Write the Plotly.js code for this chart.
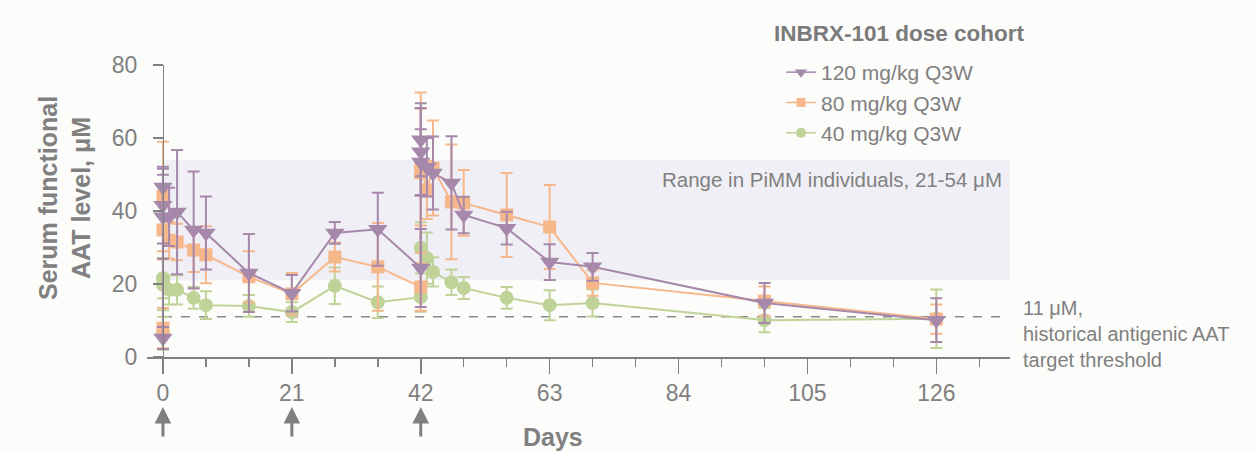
<!DOCTYPE html>
<html>
<head>
<meta charset="utf-8">
<script src="https://cdn.plot.ly/plotly-3.0.1.min.js"></script>
<style>
html,body{margin:0;padding:0;background:#fcfcfb;}
#chart{width:1256px;height:453px;}
</style>
</head>
<body>
<div id="chart"></div>
<script>
// ---- Data ----
const seriesNames = ['120 mg/kg Q3W', '80 mg/kg Q3W', '40 mg/kg Q3W'];

const days120 = [0, 0, 0, 0, 1, 2.3, 5, 7, 14, 21, 28, 35, 42, 42, 42, 42, 43, 44, 47, 49, 56, 63, 70, 98, 126];
const aat120  = [5.2, 46.6, 41.6, 38.4, 38.4, 39.7, 34.8, 34, 23, 17.5, 34, 35, 24.4, 59.5, 56.2, 53.4, 52, 50.4, 47.7, 38.9, 35.3, 26, 24.7, 14.8, 10.1];
const err120  = [3, 5, 10.5, 11.5, 8, 17, 16, 10, 10.7, 5, 3, 10, 10.7, 10, 12, 9, 8, 10, 12.8, 5, 4.5, 4.9, 3.8, 5.5, 6];

const days80 = [0, 0, 0, 1, 2.3, 5, 7, 14, 21, 28, 35, 42, 42, 42, 43, 44, 47, 49, 56, 63, 70, 98, 126];
const aat80  = [7.9, 44, 34.8, 32, 31.5, 29.3, 28, 22, 17.3, 27.4, 24.7, 19.2, 50.5, 52, 45.8, 51.8, 42.5, 42.2, 38.9, 35.6, 20.3, 15.3, 10.4];
const err80  = [5.5, 15, 8, 5, 5, 6, 7.8, 7, 5.7, 4, 12, 6.5, 22, 16, 8, 13, 15.7, 9, 11.5, 11.5, 3.5, 4, 4];

const days40 = [0, 0, 0, 1, 2.3, 5, 7, 14, 21, 28, 35, 42, 42, 43, 44, 47, 49, 56, 63, 70, 98, 126];
const aat40  = [6.5, 21.6, 19.8, 18.4, 18.4, 16.2, 14.2, 14, 12.3, 19.5, 15, 16.4, 29.9, 27.1, 23.3, 20.5, 18.9, 16.2, 14.2, 14.8, 10.1, 10.5];
const err40  = [4.5, 5.5, 7, 4, 4, 3, 3.8, 3, 2.7, 5, 4.3, 4, 7, 7, 4, 3.5, 3, 3, 4.1, 3.7, 3.3, 8];

const doseDays = [0, 21, 42];
const xTickVals = [0, 7, 14, 21, 28, 35, 42, 49, 56, 63, 70, 77, 84, 91, 98, 105, 112, 119, 126, 133];
const xLabelVals = [0, 21, 42, 63, 84, 105, 126];
const yTickVals = [0, 20, 40, 60, 80];
const pimmRange = [21, 54];
const threshold = 11;
const legendTitle = 'INBRX-101 dose cohort';

// ---- Styling ----
const FONT = '"Liberation Sans", Arial, sans-serif';
const GRAY = '#808080';
const cPurple = '#a688ab';
const cOrange = '#f6b78b';
const cGreen  = '#bfd398';

function mk(name, x, y, e, color, symbol, size) {
  return {
    type: 'scatter', mode: 'lines+markers', name: name, showlegend: false,
    x: x, y: y,
    error_y: {type: 'data', array: e, visible: true, color: color, thickness: 2, width: 6},
    line: {color: color, width: 2},
    marker: {color: color, symbol: symbol, size: size},
    cliponaxis: false
  };
}
function lg(name, color, symbol, size) {
  return {
    type: 'scatter', mode: 'lines+markers', name: name, showlegend: true,
    x: [null], y: [null],
    line: {color: color, width: 1.5},
    marker: {color: color, symbol: symbol, size: size}
  };
}

const traces = [
  mk(seriesNames[2], days40, aat40, err40, cGreen, 'circle', 14),
  mk(seriesNames[1], days80, aat80, err80, cOrange, 'square', 13),
  mk(seriesNames[0], days120, aat120, err120, cPurple, 'triangle-down', 17),
  lg(seriesNames[0], cPurple, 'triangle-down', 11),
  lg(seriesNames[1], cOrange, 'square', 9),
  lg(seriesNames[2], cGreen, 'circle', 10)
];

const xr = [-2.6, 138];
const yPos = (0 - xr[0]) / (xr[1] - xr[0]);

const shapes = [
  {type: 'rect', xref: 'x', yref: 'y', x0: 0, x1: 138, y0: pimmRange[0], y1: pimmRange[1],
   fillcolor: '#f0eff6', line: {width: 0}, layer: 'below'},
  {type: 'line', xref: 'x', yref: 'y', x0: 0, x1: 136.8, y0: threshold, y1: threshold,
   line: {color: '#8a8a8a', width: 1.5, dash: 'dash'}, layer: 'below'}
];

const annotations = [
  {xref: 'x', yref: 'y', x: 137, y: 48.5, xanchor: 'right', yanchor: 'middle', showarrow: false,
   text: 'Range in PiMM individuals, 21-54 μM', font: {family: FONT, size: 20.5, color: GRAY}},
  {xref: 'paper', yref: 'y', x: 1.013, y: threshold, xanchor: 'left', yanchor: 'middle', yshift: -17, showarrow: false, align: 'left',
   text: '11 μM,<br>historical antigenic AAT<br>target threshold', font: {family: FONT, size: 20, color: GRAY}},
  {xref: 'paper', yref: 'paper', x: (553 - 147) / 863, y: (357 - 437) / 292, xanchor: 'center', yanchor: 'middle', showarrow: false,
   text: '<b>Days</b>', font: {family: FONT, size: 25, color: GRAY}},
  {xref: 'paper', yref: 'paper', x: (64 - 147) / 863, y: (357 - 198) / 292, xanchor: 'center', yanchor: 'middle', showarrow: false,
   textangle: -90, text: '<b>Serum functional<br>AAT level, μM</b>', font: {family: FONT, size: 25, color: GRAY}},
  {xref: 'paper', yref: 'paper', x: (772 - 147) / 863, y: 1 + (65 - 34) / 292, xanchor: 'left', yanchor: 'middle', showarrow: false,
   text: '<b>' + legendTitle + '</b>', font: {family: FONT, size: 22.5, color: '#7a7a7a'}}
];
doseDays.forEach(d => annotations.push({
  xref: 'x', yref: 'paper', x: d, y: (357 - 407) / 292, ax: 0, ay: 31, text: '',
  showarrow: true, arrowhead: 2, arrowsize: 1.1, arrowwidth: 3, arrowcolor: '#7f7f7f'
}));

const layout = {
  width: 1256, height: 453,
  paper_bgcolor: '#fcfcfb', plot_bgcolor: 'rgba(0,0,0,0)',
  margin: {l: 147, r: 246, t: 65, b: 96},
  font: {family: FONT, color: GRAY},
  showlegend: true,
  legend: {
    x: (781 - 147) / 863, y: 1 + (65 - 52) / 292, xanchor: 'left', yanchor: 'top',
    bgcolor: 'rgba(0,0,0,0)', traceorder: 'normal',
    font: {family: FONT, size: 21, color: GRAY}
  },
  xaxis: {
    range: xr, showgrid: false, zeroline: false,
    showline: true, linecolor: GRAY, linewidth: 1.5,
    tickmode: 'array', tickvals: xLabelVals,
    ticks: 'outside', ticklen: 15, tickwidth: 1.5, tickcolor: GRAY,
    minor: {tickmode: 'array', tickvals: xTickVals, ticks: 'outside', ticklen: 8, tickwidth: 1.5, tickcolor: GRAY, showgrid: false},
    tickfont: {family: FONT, size: 23, color: GRAY}
  },
  yaxis: {
    range: [0, 80], anchor: 'free', position: yPos, showgrid: false, zeroline: false,
    showline: true, linecolor: GRAY, linewidth: 1.5,
    tickmode: 'array', tickvals: yTickVals,
    ticks: 'outside', ticklen: 10, tickwidth: 1.5, tickcolor: GRAY,
    ticklabelstandoff: 11,
    tickfont: {family: FONT, size: 23, color: GRAY}
  },
  shapes: shapes,
  annotations: annotations
};

Plotly.newPlot('chart', traces, layout, {displayModeBar: false, staticPlot: true});
</script>
</body>
</html>
